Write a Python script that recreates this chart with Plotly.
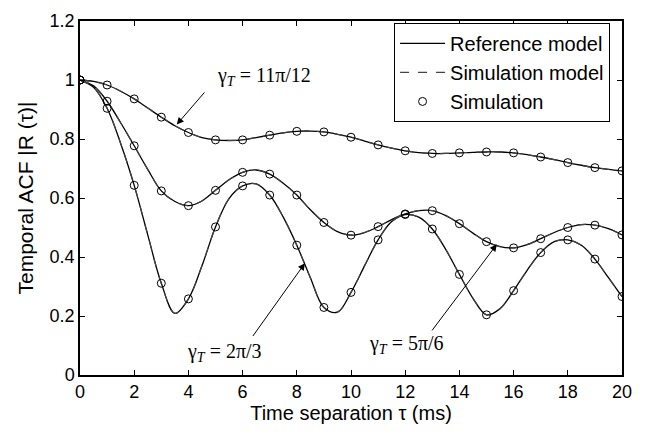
import plotly.graph_objects as go

# Time separation grid for the model curves (ms)
tau_curve = [i * 0.5 for i in range(41)]
# Simulation points (ms)
tau_sim = list(range(21))

# Reference model curves (0.5 ms steps)
ref_11pi12 = [1.000, 0.995, 0.983, 0.962, 0.936, 0.905, 0.874, 0.845, 0.822, 0.805,
              0.797, 0.795, 0.797, 0.805, 0.813, 0.821, 0.826, 0.827, 0.824, 0.816,
              0.806, 0.793, 0.780, 0.769, 0.760, 0.754, 0.751, 0.751, 0.753, 0.755,
              0.756, 0.756, 0.753, 0.747, 0.739, 0.730, 0.720, 0.711, 0.703, 0.697,
              0.692]
ref_5pi6 = [1.000, 0.980, 0.928, 0.855, 0.777, 0.697, 0.624, 0.588, 0.574, 0.590,
            0.626, 0.662, 0.687, 0.695, 0.681, 0.650, 0.610, 0.560, 0.517, 0.486,
            0.474, 0.483, 0.503, 0.527, 0.546, 0.557, 0.557, 0.540, 0.513, 0.481,
            0.452, 0.435, 0.431, 0.442, 0.462, 0.483, 0.500, 0.510, 0.508, 0.496,
            0.475]
ref_2pi3 = [1.000, 0.975, 0.904, 0.785, 0.643, 0.475, 0.311, 0.209, 0.258, 0.370,
            0.502, 0.598, 0.641, 0.648, 0.610, 0.535, 0.440, 0.330, 0.229, 0.213,
            0.280, 0.370, 0.458, 0.520, 0.544, 0.535, 0.495, 0.425, 0.341, 0.260,
            0.204, 0.225, 0.286, 0.355, 0.415, 0.452, 0.458, 0.440, 0.393, 0.330,
            0.266]
# Simulation model curves (visually identical to the reference model)
simmod_11pi12 = list(ref_11pi12)
simmod_5pi6 = list(ref_5pi6)
simmod_2pi3 = list(ref_2pi3)

# Simulation points
sim_11pi12 = [1.000, 0.983, 0.936, 0.874, 0.822, 0.797, 0.797, 0.813, 0.826, 0.824,
              0.806, 0.780, 0.760, 0.751, 0.753, 0.756, 0.753, 0.739, 0.720, 0.703, 0.692]
sim_5pi6 = [1.000, 0.928, 0.777, 0.624, 0.574, 0.626, 0.687, 0.681, 0.610, 0.517,
            0.474, 0.503, 0.546, 0.557, 0.513, 0.452, 0.431, 0.462, 0.500, 0.508, 0.475]
sim_2pi3 = [1.000, 0.904, 0.643, 0.311, 0.258, 0.502, 0.641, 0.610, 0.440, 0.229,
            0.280, 0.458, 0.544, 0.495, 0.341, 0.204, 0.286, 0.415, 0.458, 0.393, 0.266]

x_ticks = list(range(0, 21, 2))
y_ticks = [0, 0.2, 0.4, 0.6, 0.8, 1.0, 1.2]
y_ticklabels = ["0", "0.2", "0.4", "0.6", "0.8", "1", "1.2"]

fig = go.Figure()

refs = [ref_11pi12, ref_5pi6, ref_2pi3]
simmods = [simmod_11pi12, simmod_5pi6, simmod_2pi3]
sims = [sim_11pi12, sim_5pi6, sim_2pi3]

for i, r in enumerate(refs):
    fig.add_trace(go.Scatter(x=tau_curve, y=r, mode="lines", name="Reference model",
                             line=dict(color="black", width=1.3, shape="spline"),
                             legendgroup="ref", showlegend=(i == 0)))
for i, s in enumerate(simmods):
    fig.add_trace(go.Scatter(x=tau_curve, y=s, mode="lines", name="Simulation model",
                             line=dict(color="#444444", width=1.2, dash="dash", shape="spline"),
                             legendgroup="simmod", showlegend=(i == 0)))
for i, s in enumerate(sims):
    fig.add_trace(go.Scatter(x=tau_sim, y=s, mode="markers", name="Simulation",
                             marker=dict(symbol="circle-open", size=8, color="black",
                                         line=dict(width=1)),
                             legendgroup="sim", showlegend=(i == 0)))

serif = dict(family="Liberation Serif", size=20, color="black")
labels = [
    dict(text="γ<sub><i>T</i></sub> = 11π/12", x=6.80, y=1.013, head=(3.57, 0.849), tail=(4.64, 0.963)),
    dict(text="γ<sub><i>T</i></sub> = 2π/3", x=5.35, y=0.077, head=(8.30, 0.379), tail=(6.34, 0.127)),
    dict(text="γ<sub><i>T</i></sub> = 5π/6", x=12.05, y=0.103, head=(15.38, 0.443), tail=(12.95, 0.146)),
]
for lb in labels:
    fig.add_annotation(x=lb["x"], y=lb["y"], text=lb["text"], showarrow=False, font=serif,
                       xref="x", yref="y")
    fig.add_annotation(x=lb["head"][0], y=lb["head"][1], ax=lb["tail"][0], ay=lb["tail"][1],
                       axref="x", ayref="y", xref="x", yref="y", text="",
                       showarrow=True, arrowhead=2, arrowsize=1.4, arrowwidth=1,
                       arrowcolor="black")

axis_common = dict(showline=True, linecolor="black", linewidth=1.5, mirror="ticks",
                   ticks="inside", ticklen=5, tickcolor="black", showgrid=False,
                   zeroline=False, tickfont=dict(family="Liberation Sans", size=18, color="black"))

fig.update_layout(
    width=655, height=434,
    margin=dict(l=80, r=33, t=11, b=59),
    plot_bgcolor="white", paper_bgcolor="white",
    xaxis=dict(range=[0, 20], tickvals=x_ticks,
               title=dict(text="Time separation τ (ms)", standoff=4,
                          font=dict(family="Liberation Sans", size=20, color="black")),
               **axis_common),
    yaxis=dict(range=[0, 1.2], tickvals=y_ticks, ticktext=y_ticklabels,
               title=dict(text="Temporal ACF |R (τ)|", standoff=10,
                          font=dict(family="Liberation Sans", size=21, color="black")),
               **axis_common),
    legend=dict(x=0.978, y=0.9945, xanchor="right", yanchor="top",
                bordercolor="black", borderwidth=1, bgcolor="white", tracegroupgap=0,
                itemwidth=45,
                font=dict(family="Liberation Sans", size=20, color="black")),
    showlegend=True,
)

fig.write_html("out.html", config={"displayModeBar": False},
               post_script="document.body.style.margin='0px';")
